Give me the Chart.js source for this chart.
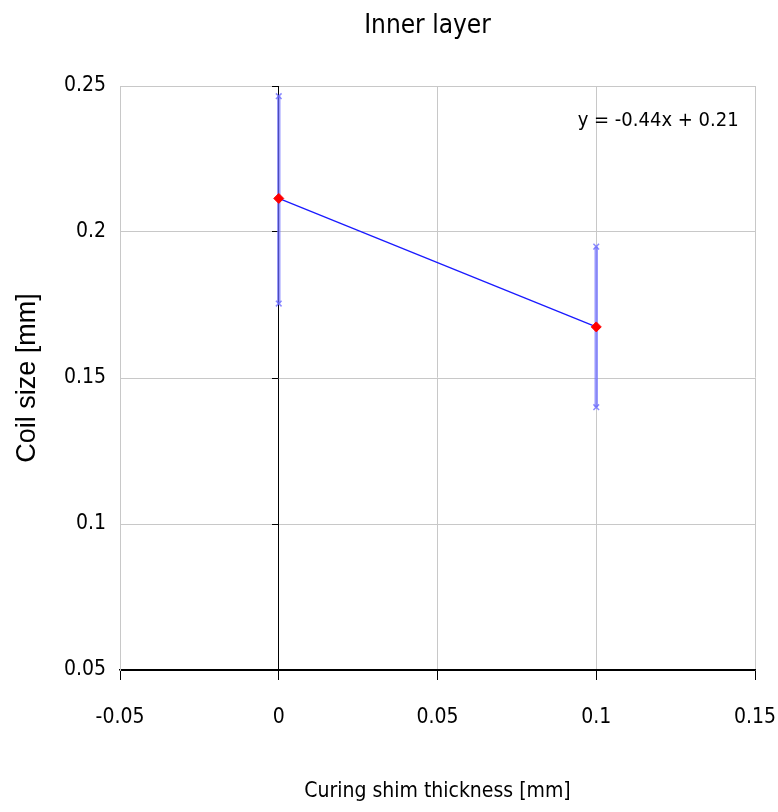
<!DOCTYPE html>
<html><head><meta charset="utf-8">
<script src="https://cdn.jsdelivr.net/npm/chart.js@4.4.1/dist/chart.umd.min.js"></script>
<style>html,body{margin:0;padding:0;background:#fff}#wrap{width:778px;height:812px}</style>
</head><body><div id="wrap"><canvas id="c" width="778" height="812"></canvas></div>
<script>
const shimThickness = [0, 0.1];
const coilSize = [0.2115, 0.1675];
const errLow = [0.1755, 0.1400];
const errHigh = [0.2465, 0.1950];
const xTicks = [-0.05, 0, 0.05, 0.1, 0.15];
const yTicks = [0.05, 0.1, 0.15, 0.2, 0.25];
const chartTitle = 'Inner layer';
const trendText = 'y = -0.44x + 0.21';
const trendPos = [0.1195, 0.238];

const NARROW = "'Liberation Sans Narrow', 'DejaVu Sans Condensed', 'Liberation Sans', Arial, sans-serif";
const WIDE = "'Liberation Sans', Arial, sans-serif";
const GRID = '#c8c8c8';

const mainData = shimThickness.map((x, i) => ({x: x, y: coilSize[i]}));
const errSets = shimThickness.map((x, i) => ({
  data: [{x: x, y: errLow[i]}, {x: x, y: errHigh[i]}],
  borderColor: 'rgba(110,110,255,0.7)',
  borderWidth: 3.5,
  pointStyle: 'crossRot',
  pointRadius: 4,
  pointBorderWidth: 1.5,
  pointBorderColor: 'rgba(110,110,255,0.8)',
  order: 1
}));

const textPlugin = {
  id: 'texts',
  afterDatasetsDraw(chart) {
    const ctx = chart.ctx;
    const a = chart.chartArea;
    ctx.save();
    ctx.fillStyle = '#000';
    ctx.textAlign = 'center';
    ctx.textBaseline = 'middle';
    ctx.font = '26px ' + NARROW;
    ctx.fillText(chartTitle, (a.left + a.right) / 2 - 10, 26);
    const px = chart.scales.x.getPixelForValue(trendPos[0]);
    const py = chart.scales.y.getPixelForValue(trendPos[1]);
    ctx.font = '20px ' + NARROW;
    ctx.fillText(trendText, px, py);
    ctx.restore();
  }
};

const setTicks = arr => s => { s.ticks = arr.map(v => ({value: v})); };

new Chart(document.getElementById('c'), {
  type: 'line',
  data: {
    datasets: [{
      data: mainData,
      borderColor: '#1a1aff',
      borderWidth: 1.3,
      pointStyle: 'rectRot',
      pointRadius: 5,
      pointBackgroundColor: '#ff0000',
      pointBorderColor: '#ff0000',
      pointBorderWidth: 1,
      order: 0
    }].concat(errSets)
  },
  options: {
    responsive: false,
    animation: false,
    devicePixelRatio: 1,
    layout: {padding: {left: 0, right: 23, top: 86, bottom: 0}},
    plugins: {
      legend: {display: false},
      tooltip: {enabled: false},
      title: {display: false}
    },
    scales: {
      x: {
        type: 'linear',
        min: -0.05, max: 0.15,
        afterBuildTicks: setTicks(xTicks),
        afterFit: s => { s.height = 142; s.paddingLeft = 0; s.paddingRight = 0; },
        grid: {
          color: c => (c.tick && c.tick.value === 0) ? '#000' : GRID,
          tickColor: '#000',
          tickLength: 10,
          lineWidth: 1
        },
        border: {color: '#000', width: 1.5},
        ticks: {
          color: '#000', padding: 25,
          font: {family: NARROW, size: 21},
          callback: v => String(v)
        },
        title: {
          display: true, text: 'Curing shim thickness [mm]', color: '#000',
          font: {family: NARROW, size: 21},
          padding: {top: 0, bottom: 8}
        }
      },
      y: {
        type: 'linear',
        position: 'left',
        min: 0.05, max: 0.25,
        afterBuildTicks: setTicks(yTicks),
        afterFit: s => { s.width = 120; s.paddingTop = 0; s.paddingBottom = 0; },
        grid: {
          color: c => (c.tick && c.tick.value === 0.05) ? '#000' : GRID,
          drawTicks: false,
          lineWidth: 1
        },
        border: {color: GRID, width: 1},
        ticks: {
          color: '#000', padding: 14,
          font: {family: NARROW, size: 21},
          callback: v => String(v)
        },
        title: {
          display: true, text: 'Coil size [mm]', color: '#000',
          font: {family: WIDE, size: 27},
          padding: {top: 11, bottom: 0}
        }
      },
      y2: {
        type: 'linear',
        axis: 'y',
        position: {x: 0},
        min: 0.05, max: 0.25,
        afterBuildTicks: setTicks(yTicks),
        grid: {drawOnChartArea: false, tickColor: '#000', tickLength: 6},
        border: {color: '#000', width: 1},
        ticks: {display: false}
      }
    }
  },
  plugins: [textPlugin]
});
</script>
</body></html>
